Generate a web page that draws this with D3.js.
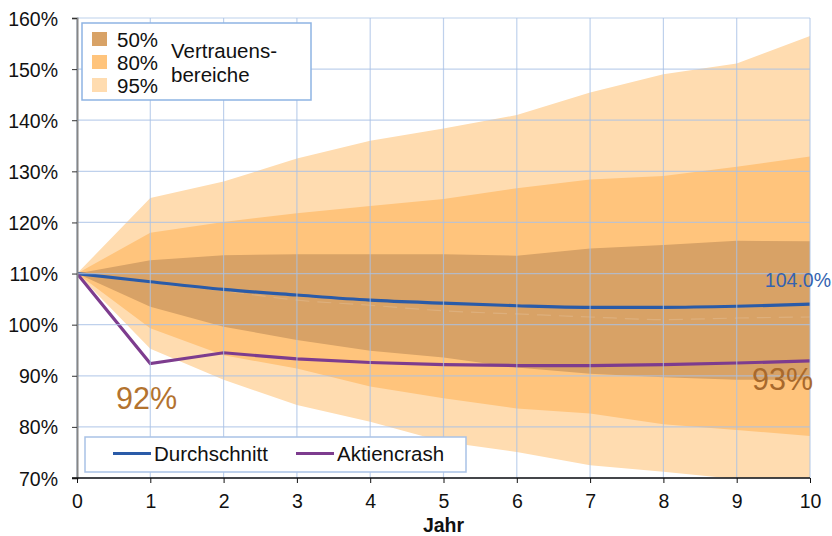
<!DOCTYPE html>
<html>
<head>
<meta charset="utf-8">
<script src="https://cdn.jsdelivr.net/npm/d3@7"></script>
<style>
  html, body { margin: 0; padding: 0; background: #fff; }
  svg { display: block; font-family: "Liberation Sans", Arial, sans-serif; }
</style>
</head>
<body>
<div id="chart"></div>
<script>
// ── data ────────────────────────────────────────────────────────────────────
const years = [0, 1, 2, 3, 4, 5, 6, 7, 8, 9, 10];
const ci95Upper = [110, 124.8, 128.0, 132.5, 136.0, 138.4, 141.0, 145.4, 149.0, 151.1, 156.5];
const ci95Lower = [110, 95.3, 89.2, 84.3, 81.0, 77.1, 75.1, 72.5, 71.2, 69.8, 68.5];
const ci80Upper = [110, 118.0, 120.1, 121.8, 123.2, 124.6, 126.7, 128.4, 129.1, 130.9, 132.9];
const ci80Lower = [110, 99.3, 94.0, 91.4, 87.9, 85.6, 83.6, 82.6, 80.5, 79.4, 78.2];
const ci50Upper = [110, 112.6, 113.6, 113.8, 113.8, 113.8, 113.5, 114.9, 115.6, 116.4, 116.3];
const ci50Lower = [110, 103.5, 99.6, 97.0, 94.9, 93.6, 91.6, 90.4, 89.7, 89.2, 89.2];
const median = [110, 108.2, 106.6, 104.8, 103.8, 102.7, 102.1, 101.5, 101.0, 101.3, 101.5];
const durchschnitt = [110, 108.4, 106.9, 105.8, 104.8, 104.2, 103.7, 103.4, 103.4, 103.6, 104.0];
const aktiencrash = [110, 92.4, 94.5, 93.3, 92.6, 92.2, 92.0, 92.0, 92.2, 92.5, 92.9];
const yTicks = [70, 80, 90, 100, 110, 120, 130, 140, 150, 160];
const bandNames = ['50%', '80%', '95%'];

const W = 832, H = 536;
const C95 = '#FFDCB0', C80 = '#FFC47C', C50 = '#D8A266';
const BLUE = '#2A5BA8', PURPLE = '#7D3C8E', BROWN = '#B3732F';
const FONT = '"Liberation Sans", Arial, sans-serif';

const x = d3.scaleLinear().domain([0, 10]).range([77, 810]);
const y = d3.scaleLinear().domain([70, 160]).range([478, 18]);

const svg = d3.select('#chart').append('svg').attr('width', W).attr('height', H);

svg.append('defs').append('clipPath').attr('id', 'plot')
  .append('rect').attr('x', 77).attr('y', 18).attr('width', 735).attr('height', 460);

const plot = svg.append('g').attr('clip-path', 'url(#plot)');

// ── confidence bands ─────────────────────────────────────────────────────────
const band = (lo, hi) => d3.area()
  .x((d, i) => x(years[i]))
  .y0((d, i) => y(lo[i]))
  .y1((d, i) => y(hi[i]))(years);

plot.append('path').attr('d', band(ci95Lower, ci95Upper)).attr('fill', C95);
plot.append('path').attr('d', band(ci80Lower, ci80Upper)).attr('fill', C80);
plot.append('path').attr('d', band(ci50Lower, ci50Upper)).attr('fill', C50);

// ── grid (over the bands, semi transparent) ─────────────────────────────────
const grid = svg.append('g').attr('stroke', '#A9C2E6').attr('stroke-width', 1.2).attr('stroke-opacity', 0.75);
yTicks.forEach((t) => {
  grid.append('line').attr('x1', x(0)).attr('x2', x(10)).attr('y1', y(t)).attr('y2', y(t));
});
years.forEach((t) => {
  grid.append('line').attr('x1', x(t)).attr('x2', x(t)).attr('y1', y(160)).attr('y2', y(70));
});

// faint median line
plot.append('path')
  .attr('d', d3.line().x((d, i) => x(years[i])).y((d) => y(d)).curve(d3.curveMonotoneX)(median))
  .attr('fill', 'none').attr('stroke', '#fff').attr('stroke-opacity', 0.15)
  .attr('stroke-width', 1.2).attr('stroke-dasharray', '14,8');

// ── lines ───────────────────────────────────────────────────────────────────
plot.append('path')
  .attr('d', d3.line().x((d, i) => x(years[i])).y((d) => y(d)).curve(d3.curveMonotoneX)(durchschnitt))
  .attr('fill', 'none').attr('stroke', BLUE).attr('stroke-width', 3.2);

plot.append('path')
  .attr('d', d3.line().x((d, i) => x(years[i])).y((d) => y(d))(aktiencrash))
  .attr('fill', 'none').attr('stroke', PURPLE).attr('stroke-width', 3.2);

// ── axes ────────────────────────────────────────────────────────────────────
const yAxis = svg.append('g').attr('transform', `translate(${x(0)},0)`)
  .call(d3.axisLeft(y).tickValues(yTicks).tickSize(5).tickPadding(14).tickFormat((d) => d + '%'));
yAxis.select('.domain').attr('stroke', '#868686').attr('stroke-width', 2);
yAxis.selectAll('.tick line').attr('stroke', '#333');
yAxis.selectAll('text').attr('font-size', '19.5px').attr('font-family', FONT).attr('fill', '#111').attr('dy', '0.36em');

const xAxis = svg.append('g').attr('transform', `translate(0,${y(70)})`)
  .call(d3.axisBottom(x).tickValues(years).tickSize(5).tickPadding(11).tickFormat(d3.format('d')));
xAxis.select('.domain').attr('stroke', '#111').attr('stroke-width', 1.5).attr('d', `M72,0H${x(10)}`);
xAxis.selectAll('.tick line').attr('stroke', '#111');
xAxis.selectAll('text').attr('font-size', '19.5px').attr('font-family', FONT).attr('fill', '#111');

svg.append('text').attr('x', (x(0) + x(10)) / 2).attr('y', 532).attr('text-anchor', 'middle')
  .attr('font-size', '19.5px').attr('font-weight', 'bold').attr('font-family', FONT).attr('fill', '#111').text('Jahr');

// ── annotations ─────────────────────────────────────────────────────────────
svg.append('text').attr('x', 116).attr('y', 409).attr('font-size', '30.5px').attr('font-family', FONT)
  .attr('fill', BROWN).text(Math.round(aktiencrash[1]) + '%');
svg.append('text').attr('x', 813).attr('y', 390).attr('text-anchor', 'end').attr('font-size', '30.5px')
  .attr('font-family', FONT).attr('fill', '#A8692C').text(Math.round(aktiencrash[10]) + '%');
svg.append('text').attr('x', 831).attr('y', 287).attr('text-anchor', 'end').attr('font-size', '19.5px')
  .attr('font-family', FONT).attr('fill', '#3463B0').text(durchschnitt[10].toFixed(1) + '%');

// ── band legend ─────────────────────────────────────────────────────────────
const lg = svg.append('g');
lg.append('rect').attr('x', 82).attr('y', 23).attr('width', 229).attr('height', 77)
  .attr('fill', '#fff').attr('stroke', '#8EB4E3').attr('stroke-width', 1.5);
[C50, C80, C95].forEach((c, i) => {
  const yy = 32 + i * 23;
  lg.append('rect').attr('x', 92).attr('y', yy).attr('width', 15).attr('height', 14).attr('fill', c);
  lg.append('text').attr('x', 117).attr('y', yy + 15).attr('font-size', '20.5px')
    .attr('font-family', FONT).attr('fill', '#111').text(bandNames[i]);
});
lg.append('text').attr('x', 171).attr('y', 58).attr('font-size', '20.5px').attr('font-family', FONT)
  .attr('fill', '#111').text('Vertrauens-');
lg.append('text').attr('x', 171).attr('y', 82).attr('font-size', '20.5px').attr('font-family', FONT)
  .attr('fill', '#111').text('bereiche');

// ── line legend ─────────────────────────────────────────────────────────────
const ll = svg.append('g');
ll.append('rect').attr('x', 85).attr('y', 437).attr('width', 381).attr('height', 35)
  .attr('fill', '#fff').attr('stroke', '#A9C2E6').attr('stroke-width', 1.5);
[['Durchschnitt', BLUE, 113], ['Aktiencrash', PURPLE, 296]].forEach(([name, col, lx]) => {
  ll.append('line').attr('x1', lx).attr('x2', lx + 38).attr('y1', 453.5).attr('y2', 453.5)
    .attr('stroke', col).attr('stroke-width', 3.2);
  ll.append('text').attr('x', lx + 41).attr('y', 461).attr('font-size', '20.5px')
    .attr('font-family', FONT).attr('fill', '#111').text(name);
});
</script>
</body>
</html>
